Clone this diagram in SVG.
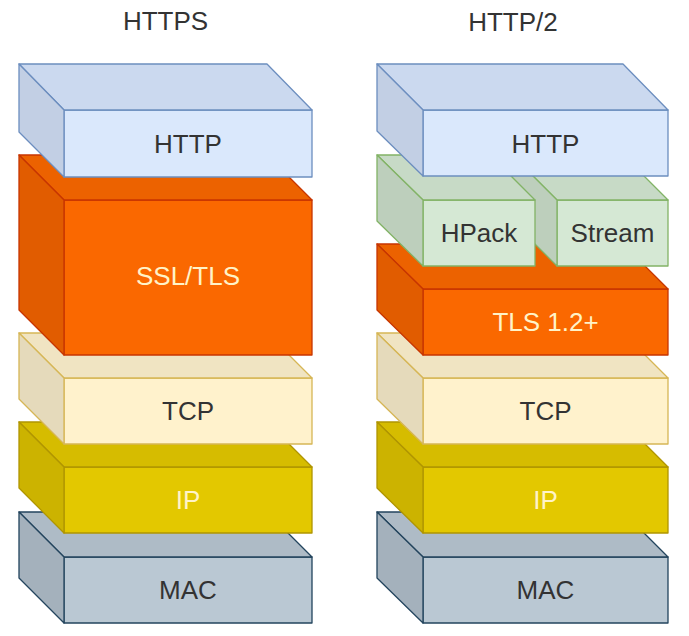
<svg xmlns="http://www.w3.org/2000/svg" width="689" height="636" viewBox="0 0 689 636">
<style>
  text { font-family: "Liberation Sans", Arial, Helvetica, sans-serif; font-size: 26px; text-anchor: middle; }
  .title { fill: #333333; }
  .dark { fill: #333333; }
  .light { fill: #FFF3C8; }
  polygon { stroke-width: 1.3; stroke-linejoin: round; }
  .http polygon { stroke: #6C8EBF; }
  .http .f { fill: #DAE8FC; } .http .t { fill: #CBD9EF; } .http .l { fill: #C2CFE4; }
  .tls polygon { stroke: #C73500; }
  .tls .f { fill: #FA6800; } .tls .t { fill: #EC6200; } .tls .l { fill: #E15C00; }
  .tcp polygon { stroke: #D6B656; }
  .tcp .f { fill: #FFF2CC; } .tcp .t { fill: #F0E4C2; } .tcp .l { fill: #E5DABB; }
  .ip polygon { stroke: #B09500; }
  .ip .f { fill: #E3C800; } .ip .t { fill: #D6BC00; } .ip .l { fill: #CCB300; }
  .mac polygon { stroke: #23445D; }
  .mac .f { fill: #BAC8D3; } .mac .t { fill: #AEBBC6; } .mac .l { fill: #A4B1BC; }
  .grn polygon { stroke: #82B366; }
  .grn .f { fill: #D5E8D4; } .grn .t { fill: #C7DAC6; } .grn .l { fill: #BDCFBC; }
</style>

<text class="title" x="165.5" y="30">HTTPS</text>
<text class="title" x="513" y="31">HTTP/2</text>

<!-- Left stack (HTTPS), drawn bottom-up -->
<g id="https-mac" class="mac">
  <polygon class="f" points="64,557 312,557 312,623 64,623"/>
  <polygon class="t" points="19,512 267,512 312,557 64,557"/>
  <polygon class="l" points="19,512 64,557 64,623 19,578"/>
  <text class="dark" x="188" y="599">MAC</text>
</g>
<g id="https-ip" class="ip">
  <polygon class="f" points="64,467 312,467 312,533 64,533"/>
  <polygon class="t" points="19,422 267,422 312,467 64,467"/>
  <polygon class="l" points="19,422 64,467 64,533 19,488"/>
  <text class="light" x="188" y="509">IP</text>
</g>
<g id="https-tcp" class="tcp">
  <polygon class="f" points="64,378 312,378 312,444 64,444"/>
  <polygon class="t" points="19,333 267,333 312,378 64,378"/>
  <polygon class="l" points="19,333 64,378 64,444 19,399"/>
  <text class="dark" x="188" y="420">TCP</text>
</g>
<g id="https-ssltls" class="tls">
  <polygon class="f" points="64,200 312,200 312,355 64,355"/>
  <polygon class="t" points="19,155 267,155 312,200 64,200"/>
  <polygon class="l" points="19,155 64,200 64,355 19,310"/>
  <text class="light" x="188" y="285">SSL/TLS</text>
</g>
<g id="https-http" class="http">
  <polygon class="f" points="64,110 312,110 312,177 64,177"/>
  <polygon class="t" points="19,64 267,64 312,110 64,110"/>
  <polygon class="l" points="19,64 64,110 64,177 19,132"/>
  <text class="dark" x="188" y="153">HTTP</text>
</g>

<!-- Right stack (HTTP/2), drawn bottom-up -->
<g id="h2-mac" class="mac">
  <polygon class="f" points="423,557 668,557 668,623 423,623"/>
  <polygon class="t" points="377,512 623,512 668,557 423,557"/>
  <polygon class="l" points="377,512 423,557 423,623 377,578"/>
  <text class="dark" x="545.5" y="599">MAC</text>
</g>
<g id="h2-ip" class="ip">
  <polygon class="f" points="423,467 668,467 668,533 423,533"/>
  <polygon class="t" points="377,422 623,422 668,467 423,467"/>
  <polygon class="l" points="377,422 423,467 423,533 377,488"/>
  <text class="light" x="545.5" y="509">IP</text>
</g>
<g id="h2-tcp" class="tcp">
  <polygon class="f" points="423,378 668,378 668,444 423,444"/>
  <polygon class="t" points="377,333 623,333 668,378 423,378"/>
  <polygon class="l" points="377,333 423,378 423,444 377,399"/>
  <text class="dark" x="545.5" y="420">TCP</text>
</g>
<g id="h2-tls" class="tls">
  <polygon class="f" points="423,289 668,289 668,355 423,355"/>
  <polygon class="t" points="377,244 623,244 668,289 423,289"/>
  <polygon class="l" points="377,244 423,289 423,355 377,310"/>
  <text class="light" x="545.5" y="331">TLS 1.2+</text>
</g>
<g id="h2-stream" class="grn">
  <polygon class="f" points="557,200 668,200 668,266 557,266"/>
  <polygon class="t" points="512,155 623,155 668,200 557,200"/>
  <polygon class="l" points="512,155 557,200 557,266 512,221"/>
  <text class="dark" x="612.5" y="242">Stream</text>
</g>
<g id="h2-hpack" class="grn">
  <polygon class="f" points="423,200 535,200 535,266 423,266"/>
  <polygon class="t" points="377,155 490,155 535,200 423,200"/>
  <polygon class="l" points="377,155 423,200 423,266 377,221"/>
  <text class="dark" x="479" y="242">HPack</text>
</g>
<g id="h2-http" class="http">
  <polygon class="f" points="423,110 668,110 668,176 423,176"/>
  <polygon class="t" points="377,64 623,64 668,110 423,110"/>
  <polygon class="l" points="377,64 423,110 423,176 377,131"/>
  <text class="dark" x="545.5" y="153">HTTP</text>
</g>

<g id="connectors"/>
</svg>
